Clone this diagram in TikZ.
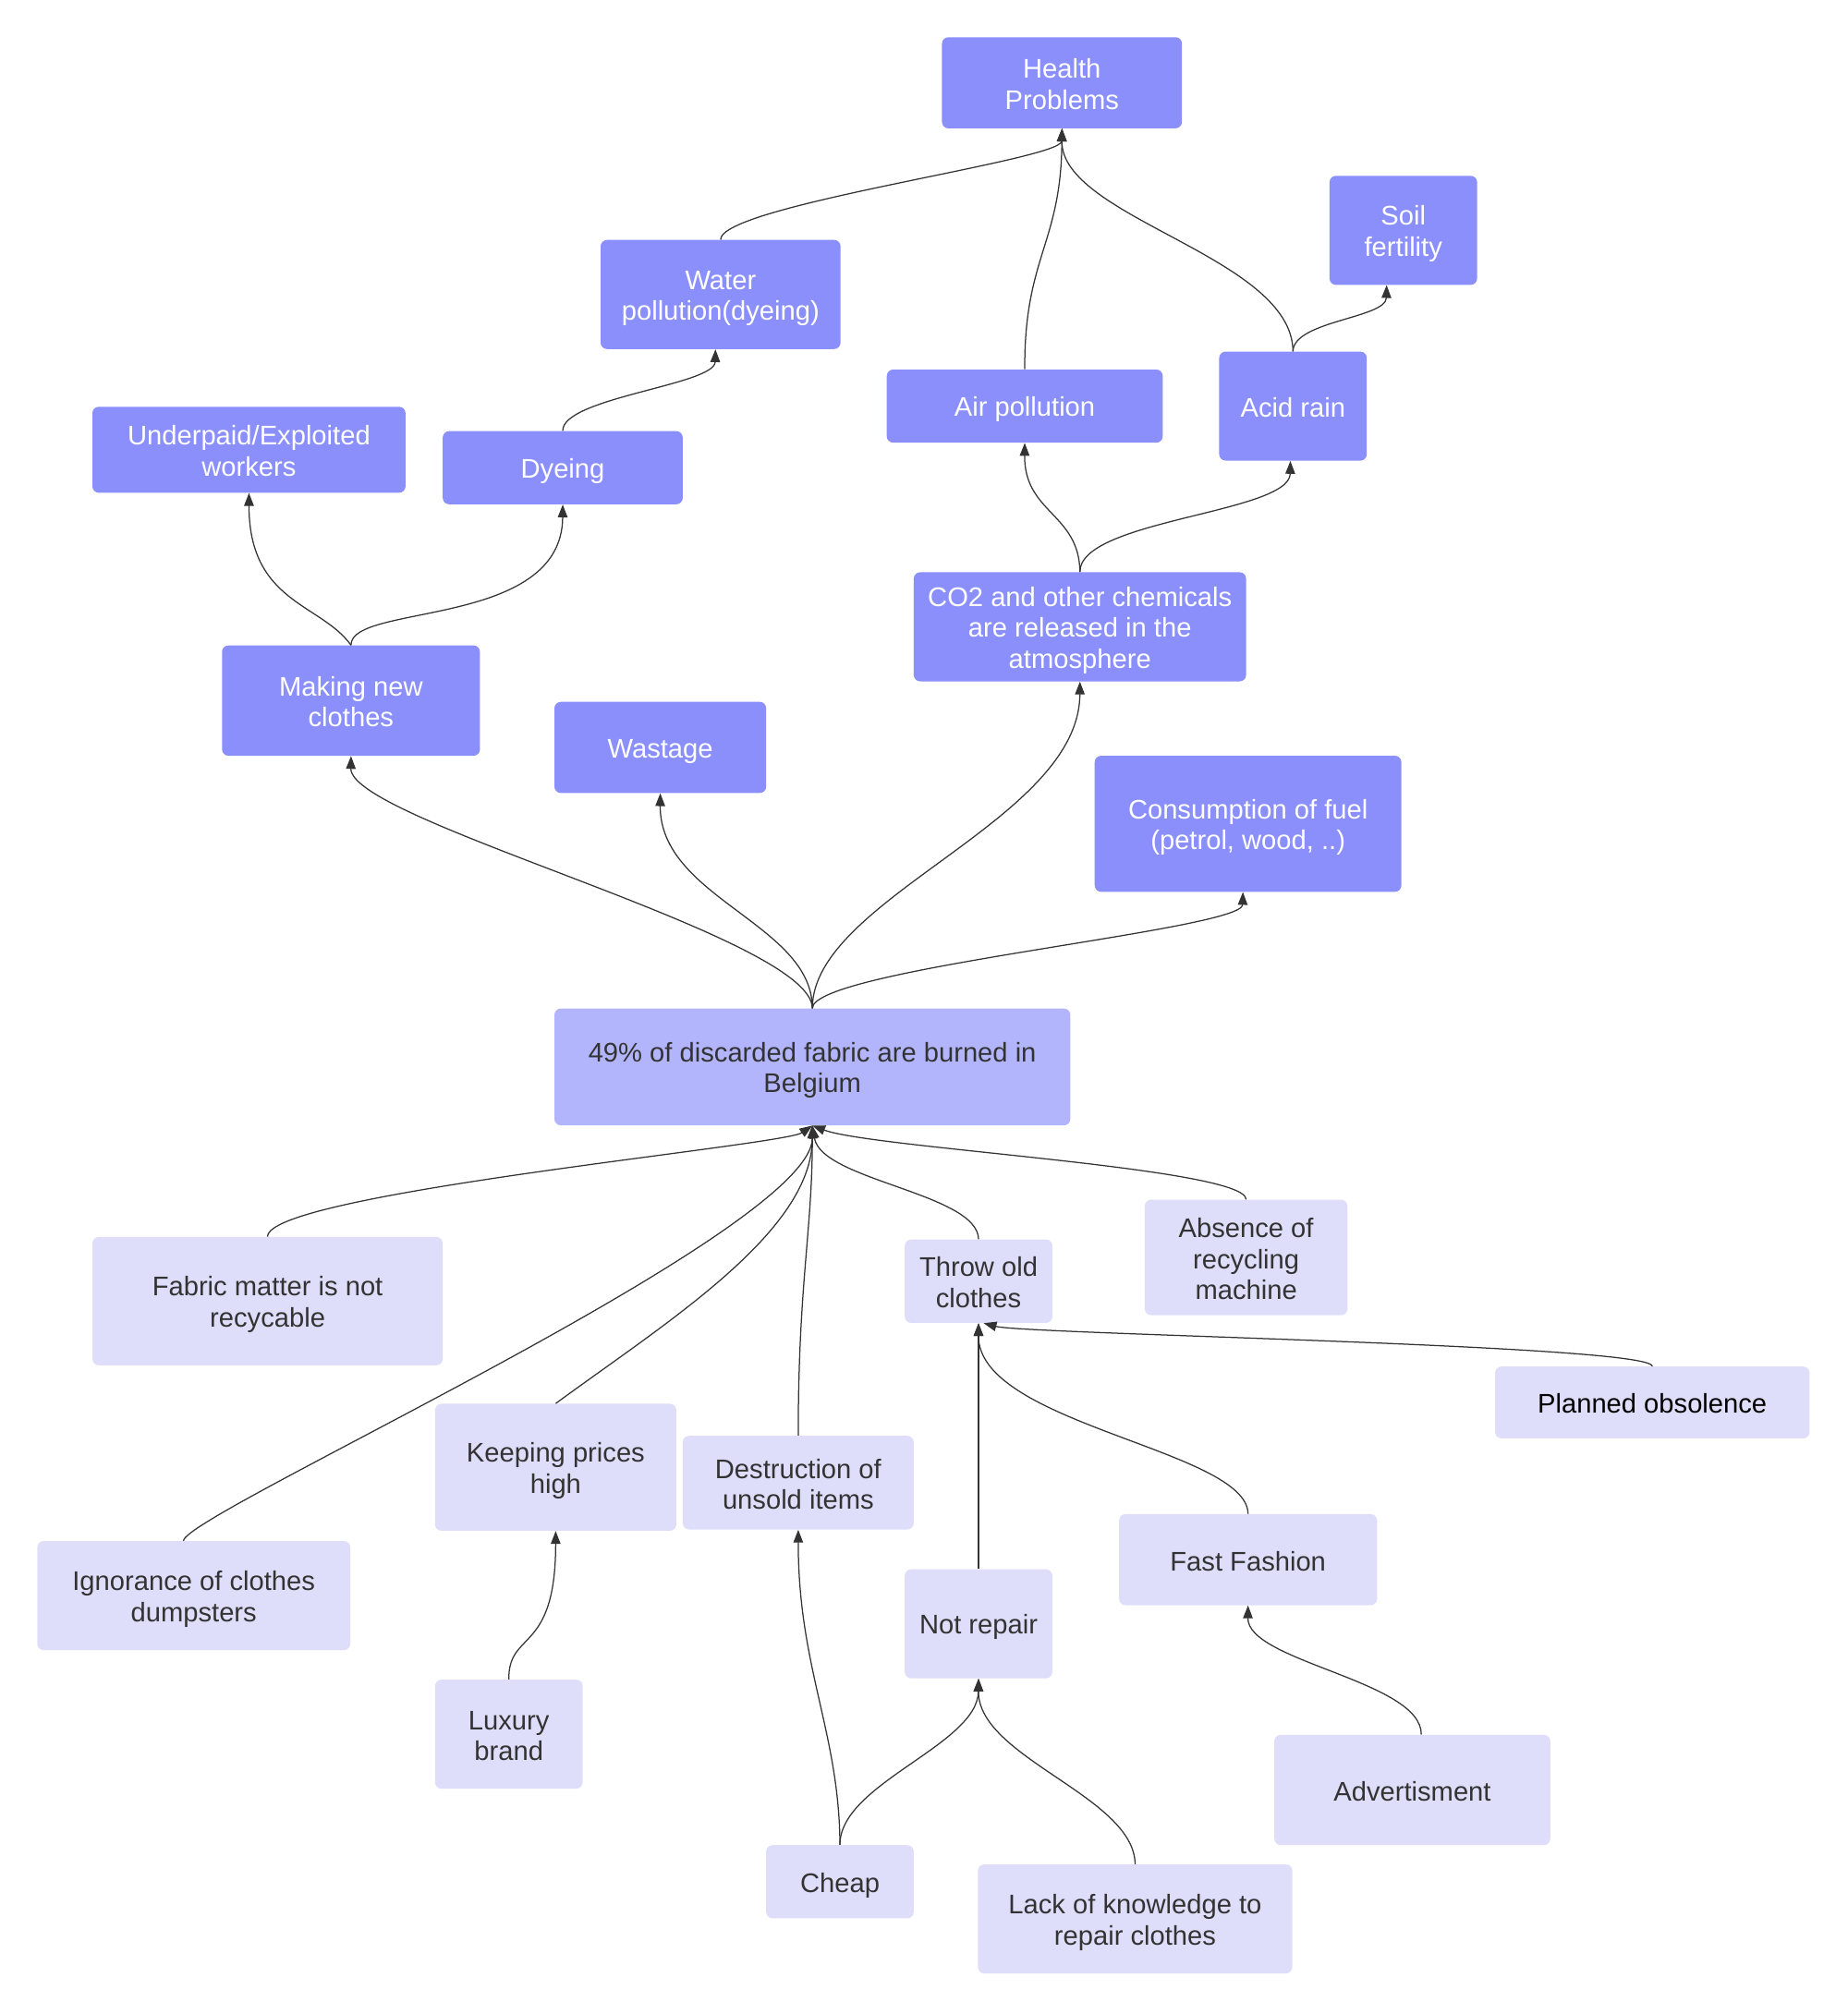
\documentclass[tikz,border=0pt]{standalone}
\usepackage{fontspec}
\setmainfont{Liberation Sans}
\usetikzlibrary{arrows.meta,calc}
\definecolor{dkc}{HTML}{8A8FFC}
\definecolor{mdc}{HTML}{B3B5FC}
\definecolor{ltc}{HTML}{DEDEFB}
\definecolor{txc}{HTML}{333333}
\newcommand{\mystrut}{\rule[-3.5pt]{0pt}{24.1pt}}
\newcommand{\myfont}{\fontsize{21}{24.1}\selectfont\setlength{\lineskiplimit}{-50pt}\setlength{\lineskip}{0pt}}
\begin{document}
\begin{tikzpicture}[x=1pt,y=-1pt,
 base/.style={rounded corners=5pt, inner sep=0pt, align=center, font=\myfont},
 dknode/.style={base, fill=dkc, text=white},
 mdnode/.style={base, fill=mdc, text=txc},
 ltnode/.style={base, fill=ltc, text=txc},
 sz/.style 2 args={minimum width=#1pt, minimum height=#2pt},
 conn/.style={draw=txc, line width=0.9pt, -{Triangle[length=10pt,width=7.5pt]}}]
\useasboundingbox (0,0) rectangle (1440,1569.6);
% top nodes
\node[dknode, sz={187}{71}] (hp) at (827.5,64.5) {\mystrut Health\\Problems\mystrut};
\node[dknode, sz={115}{85}] (sf) at (1093.5,179.5) {\mystrut Soil\\fertility\mystrut};
\node[dknode, sz={187}{85}] (wp) at (561.5,229.5) {\mystrut Water\\pollution(dyeing)\mystrut};
\node[dknode, sz={215}{57}] (ap) at (798.5,316.5) {\mystrut Air pollution\mystrut};
\node[dknode, sz={115}{85}] (ar) at (1007.5,316.5) {\mystrut Acid rain\mystrut};
\node[dknode, sz={244}{67}] (uw) at (194,350.5) {\mystrut Underpaid/Exploited\\workers\mystrut};
\node[dknode, sz={187}{57}] (dy) at (438.5,364.5) {\mystrut Dyeing\mystrut};
\node[dknode, sz={259}{85}] (co) at (841.5,488.5) {\mystrut CO2 and other chemicals\\are released in the\\atmosphere\mystrut};
\node[dknode, sz={201}{86}] (mk) at (273.5,546) {\mystrut Making new\\clothes\mystrut};
\node[dknode, sz={165}{71}] (wa) at (514.5,582.5) {\mystrut Wastage\mystrut};
\node[dknode, sz={239}{106}] (cf) at (972.5,642) {\mystrut Consumption of fuel\\(petrol, wood, ..)\mystrut};
% center
\node[mdnode, sz={402}{91}] (bu) at (633,831.5) {\mystrut 49\% of discarded fabric are burned in\\Belgium\mystrut};
% bottom nodes
\node[ltnode, sz={273}{100}] (fm) at (208.5,1014) {\mystrut Fabric matter is not\\recycable\mystrut};
\node[ltnode, sz={115}{65}] (th) at (762.5,998.5) {\mystrut Throw old\\clothes\mystrut};
\node[ltnode, sz={158}{90}] (ab) at (971,980) {\mystrut Absence of\\recycling\\machine\mystrut};
\node[ltnode, sz={245}{56}, text=black] (po) at (1287.5,1093) {\mystrut Planned obsolence\mystrut};
\node[ltnode, sz={188}{99}] (kp) at (433,1143.5) {\mystrut Keeping prices\\high\mystrut};
\node[ltnode, sz={180}{73}] (de) at (622,1155.5) {\mystrut Destruction of\\unsold items\mystrut};
\node[ltnode, sz={201}{71}] (ff) at (972.5,1215.5) {\mystrut Fast Fashion\mystrut};
\node[ltnode, sz={244}{85}] (ig) at (151,1243.5) {\mystrut Ignorance of clothes\\dumpsters\mystrut};
\node[ltnode, sz={115}{85}] (nr) at (762.5,1265.5) {\mystrut Not repair\mystrut};
\node[ltnode, sz={115}{85}] (lb) at (396.5,1351.5) {\mystrut Luxury\\brand\mystrut};
\node[ltnode, sz={215}{86}] (ad) at (1100.5,1395) {\mystrut Advertisment\mystrut};
\node[ltnode, sz={115}{57}] (ch) at (654.5,1466.5) {\mystrut Cheap\mystrut};
\node[ltnode, sz={245}{85}] (lk) at (884.5,1495.5) {\mystrut Lack of knowledge to\\repair clothes\mystrut};
% upper connectors
\draw[conn] (wp.north) .. controls (561,160) and (827,125) .. (hp.south);
\draw[conn] (ap.north) .. controls (798,200) and (827,190) .. (hp.south);
\draw[conn] (ar.north) .. controls (1007,200) and (827,170) .. (hp.south);
\draw[conn] (ar.north) .. controls (1008,250) and (1080,248) .. ($(sf.south)+(-13,0)$);
\draw[conn] (dy.north) .. controls (438,310) and (557,300) .. ($(wp.south)+(-4,0)$);
\draw[conn] (mk.north) .. controls (250,470) and (194,470) .. (uw.south);
\draw[conn] (mk.north) .. controls (273,470) and (438,490) .. (dy.south);
\draw[conn] (co.north) .. controls (841,400) and (798,400) .. (ap.south);
\draw[conn] (co.north) .. controls (841,405) and (1005,400) .. ($(ar.south)+(-2,0)$);
\draw[conn] (bu.north) .. controls (633,730) and (273,640) .. (mk.south);
\draw[conn] (bu.north) .. controls (633,720) and (514,700) .. (wa.south);
\draw[conn] (bu.north) .. controls (633,700) and (841,640) .. (co.south);
\draw[conn] (bu.north) .. controls (633,755) and (968,725) .. ($(cf.south)+(-4,0)$);
% lower connectors
\draw[conn] (fm.north) .. controls (208,930) and (610,893) .. (bu.south);
\draw[conn] ($(ig.north)+(-8,0)$) .. controls (143,1180) and (633,960) .. (bu.south);
\draw[conn] (kp.north) .. controls (520,1030) and (633,960) .. (bu.south);
\draw[conn] (de.north) .. controls (622,1000) and (633,960) .. (bu.south);
\draw[conn] (th.north) .. controls (762,930) and (640,920) .. (bu.south);
\draw[conn] (ab.north) .. controls (971,910) and (680,895) .. (bu.south);
\draw[conn] (nr.north) -- (th.south);
\draw[conn] (ff.north) .. controls (972,1130) and (762,1110) .. (th.south);
\draw[conn] (po.north) .. controls (1287,1048) and (800,1040) .. ($(th.south)+(4,0)$);
\draw[conn] (lb.north) .. controls (396,1270) and (433,1290) .. (kp.south);
\draw[conn] (ch.north) .. controls (654,1350) and (622,1300) .. (de.south);
\draw[conn] (ch.north) .. controls (654,1390) and (762,1360) .. (nr.south);
\draw[conn] (lk.north) .. controls (884,1400) and (762,1370) .. (nr.south);
\draw[conn] ($(ad.north)+(7,0)$) .. controls (1108,1310) and (972,1295) .. (ff.south);
\end{tikzpicture}
\end{document}
